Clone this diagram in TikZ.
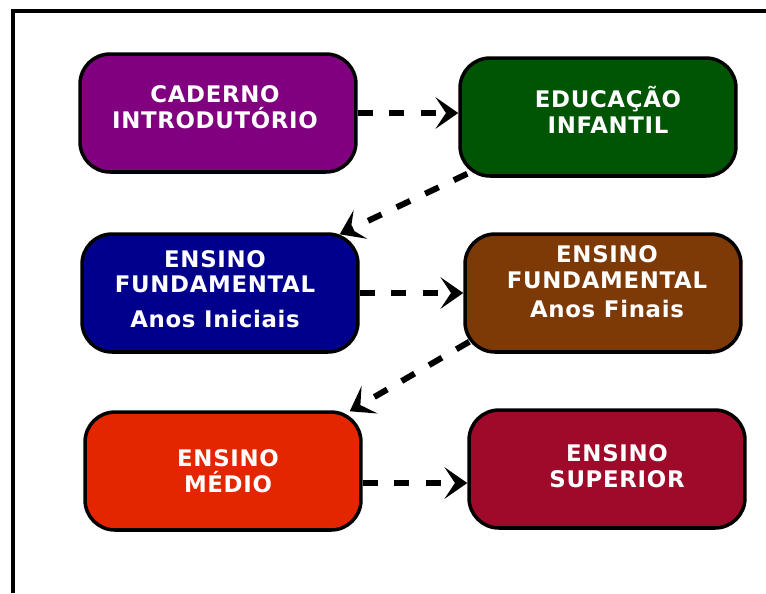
\documentclass[tikz,border=0pt]{standalone}
\usepackage{fontspec}
\setmainfont{DejaVu Sans}[LetterSpace=3]
\usepackage{tikz}
\usetikzlibrary{arrows.meta,positioning}

\definecolor{roxo}{RGB}{128,0,128}
\definecolor{verde}{RGB}{0,85,5}
\definecolor{azul}{RGB}{0,0,140}
\definecolor{marrom}{RGB}{125,58,6}
\definecolor{vermelho}{RGB}{228,38,0}
\definecolor{vinho}{RGB}{160,10,42}

\tikzset{
  etapa/.style={draw=black,line width=2pt,rounded corners=0.6cm,
    minimum width=5.52cm,minimum height=2.36cm},
  texto/.style={align=center,inner sep=0pt,
    text=white,font=\bfseries\fontsize{13}{14.7}\selectfont},
  seta/.style={line width=3.4pt,dash pattern=on 8.5pt off 9.5pt,
    -{Stealth[length=13pt,width=18pt,inset=6pt]}}
}

\begin{document}
\begin{tikzpicture}[x=0.02cm,y=-0.02cm]
\useasboundingbox (0,0) rectangle (766,593);
\draw[line width=2.2pt] (13,593) -- (13,11) -- (766,11);
% caixas das etapas
\node[etapa,fill=roxo] (cad) at (218,113) {};
\node[etapa,fill=verde] (inf) at (598,117) {};
\node[etapa,fill=azul] (ini) at (220,293) {};
\node[etapa,fill=marrom] (fin) at (603,293) {};
\node[etapa,fill=vermelho] (med) at (223,471) {};
\node[etapa,fill=vinho] (sup) at (607,469) {};
% textos
\node[texto] (cadtxt) at ([shift={(-3,-6)}]cad.center) {CADERNO\\INTRODUTÓRIO};
\node[texto] (inftxt) at ([shift={(10,-7)}]inf.center) {EDUCAÇÃO\\INFANTIL};
\node[texto] (initxt) at ([shift={(-5,-4)}]ini.center) {ENSINO\\FUNDAMENTAL\\[5pt]Anos Iniciais};
\node[texto] (fintxt) at ([shift={(4,-11)}]fin.center) {ENSINO\\FUNDAMENTAL\\[2pt]Anos Finais};
\node[texto] (medtxt) at ([shift={(5,0)}]med.center) {ENSINO\\MÉDIO};
\node[texto] (suptxt) at ([shift={(10,-3)}]sup.center) {ENSINO\\SUPERIOR};
% setas entre as etapas
\draw[seta] (cad.east) -- (inf.west |- cad.east);
\draw[seta] ([shift={(9,-4)}]inf.south west) -- ([shift={(-20,2)}]ini.north east);
\draw[seta] (ini.east) -- (fin.west |- ini.east);
\draw[seta] ([shift={(6,-12)}]fin.south west) -- ([shift={(-13,1)}]med.north east);
\draw[seta] (med.east |- 0,483) -- (sup.west |- 0,483);
\end{tikzpicture}
\end{document}
